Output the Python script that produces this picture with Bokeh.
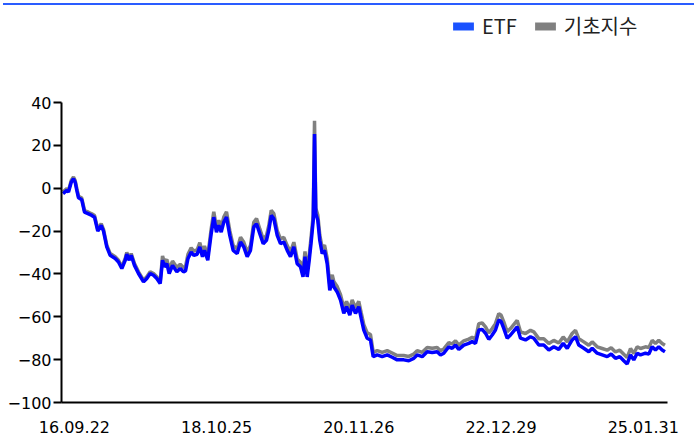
from bokeh.plotting import figure
from bokeh.models import Range1d, FixedTicker, Legend, LegendItem, Div
from bokeh.layouts import column
from bokeh.embed import file_html
from bokeh.resources import INLINE

# time as decimal years
t = [2016.557, 2016.613, 2016.638, 2016.678, 2016.711, 2016.736, 2016.760, 2016.785, 2016.833, 2016.873,
     2016.932, 2016.980, 2017.020, 2017.068, 2017.118, 2017.152, 2017.200, 2017.250, 2017.324, 2017.372,
     2017.421, 2017.471, 2017.494, 2017.530, 2017.559, 2017.607, 2017.666, 2017.740, 2017.788, 2017.838,
     2017.887, 2017.935, 2017.985, 2018.019, 2018.048, 2018.082, 2018.117, 2018.166, 2018.229, 2018.279,
     2018.327, 2018.357, 2018.393, 2018.440, 2018.479, 2018.528, 2018.567, 2018.606, 2018.636, 2018.684,
     2018.734, 2018.772, 2018.812, 2018.846, 2018.881, 2018.919, 2018.959, 2019.007, 2019.057, 2019.116,
     2019.165, 2019.213, 2019.263, 2019.311, 2019.360, 2019.400, 2019.448, 2019.498, 2019.546, 2019.580,
     2019.616, 2019.654, 2019.704, 2019.752, 2019.801, 2019.851, 2019.899, 2019.948, 2019.997, 2020.046,
     2020.083, 2020.112, 2020.144, 2020.174, 2020.200, 2020.233, 2020.252, 2020.271, 2020.300, 2020.329,
     2020.365, 2020.399, 2020.438, 2020.476, 2020.512, 2020.535, 2020.585, 2020.634, 2020.682, 2020.722,
     2020.770, 2020.805, 2020.854, 2020.902, 2020.938, 2020.976, 2021.026, 2021.074, 2021.114, 2021.173,
     2021.246, 2021.320, 2021.393, 2021.466, 2021.563, 2021.637, 2021.710, 2021.760, 2021.834, 2021.907,
     2021.981, 2022.054, 2022.103, 2022.151, 2022.225, 2022.274, 2022.323, 2022.371, 2022.445, 2022.518,
     2022.568, 2022.617, 2022.665, 2022.715, 2022.764, 2022.812, 2022.862, 2022.910, 2022.959, 2022.994,
     2023.032, 2023.082, 2023.131, 2023.190, 2023.229, 2023.278, 2023.351, 2023.425, 2023.473, 2023.547,
     2023.620, 2023.694, 2023.767, 2023.840, 2023.905, 2023.964, 2024.037, 2024.086, 2024.134, 2024.208,
     2024.281, 2024.331, 2024.404, 2024.478, 2024.551, 2024.610, 2024.673, 2024.736, 2024.795, 2024.845,
     2024.894, 2024.942, 2024.992, 2025.041, 2025.114, 2025.163, 2025.212, 2025.261, 2025.309, 2025.359,
     2025.400]

etf = [-2.5, -1.0, -1.8, 2.8, 4.4, 2.8, -1.0, -4.5, -5.4, -11.2,
       -12.0, -12.7, -13.5, -20.0, -17.3, -20.0, -27.4, -31.3, -32.8, -34.4,
       -37.5, -33.6, -30.8, -33.6, -31.3, -36.0, -39.8, -43.7, -42.1, -39.8,
       -40.6, -42.1, -44.5, -33.6, -36.7, -35.2, -39.8, -36.0, -39.0, -37.5,
       -39.0, -38.6, -32.8, -29.8, -31.3, -30.8, -27.4, -32.0, -29.0, -33.6,
       -21.2, -13.5, -20.5, -17.3, -20.5, -15.8, -13.5, -22.0, -29.0, -30.5,
       -25.1, -27.4, -32.0, -29.0, -18.1, -16.6, -21.2, -25.9, -24.3, -19.7,
       -12.7, -14.2, -22.0, -25.9, -25.1, -29.0, -32.0, -27.4, -35.2, -36.7,
       -41.4, -32.0, -41.4, -33.6, -25.9, -15.0, 25.3, -11.9, -15.0, -24.3,
       -30.5, -29.0, -35.2, -47.6, -42.9, -46.0, -48.4, -52.2, -58.4, -55.3,
       -59.2, -54.6, -58.4, -55.3, -60.7, -66.2, -70.0, -70.8, -78.6, -77.8,
       -78.6, -77.8, -78.9, -80.1, -80.1, -80.5, -79.4, -77.8, -78.6, -76.3,
       -76.7, -76.3, -77.8, -77.0, -74.0, -74.7, -73.2, -75.2, -73.2, -72.4,
       -71.6, -72.4, -66.2, -65.9, -67.7, -70.5, -68.5, -66.2, -61.5, -62.3,
       -65.4, -70.0, -68.5, -66.2, -64.7, -70.0, -70.8, -69.3, -70.0, -73.2,
       -73.2, -75.5, -74.0, -75.2, -72.4, -74.7, -70.8, -69.3, -73.2, -74.7,
       -76.3, -74.7, -77.0, -77.8, -78.6, -77.4, -79.4, -78.6, -80.5, -82.0,
       -77.8, -80.1, -77.0, -77.8, -77.0, -77.4, -74.0, -75.5, -74.0, -75.5,
       -76.3]

index_vals = [-1.7, -0.2, -1.0, 3.6, 5.2, 3.6, -0.2, -3.7, -4.6, -10.4,
              -11.2, -11.9, -12.7, -19.2, -16.5, -19.2, -26.6, -30.5, -32.0, -33.6,
              -36.7, -32.8, -30.0, -32.8, -30.5, -35.2, -39.0, -42.9, -41.3, -39.0,
              -39.8, -41.3, -43.7, -31.6, -34.7, -33.2, -37.8, -34.0, -37.0, -35.5,
              -37.0, -36.6, -30.8, -27.8, -29.3, -28.8, -25.4, -30.0, -27.0, -31.6,
              -19.0, -11.0, -18.3, -15.0, -18.2, -13.5, -11.0, -19.8, -26.8, -28.3,
              -22.9, -25.2, -29.8, -26.8, -15.9, -14.2, -19.0, -23.7, -22.1, -17.5,
              -10.3, -11.8, -19.8, -23.7, -22.9, -26.8, -29.8, -25.2, -33.0, -34.5,
              -38.9, -29.5, -38.9, -31.1, -23.4, -12.5, 31.5, -9.4, -12.5, -21.8,
              -28.0, -26.5, -32.7, -45.1, -40.4, -43.5, -45.9, -49.7, -55.9, -52.8,
              -56.7, -52.1, -55.9, -52.8, -58.2, -63.7, -67.5, -68.3, -76.6, -75.8,
              -76.6, -75.8, -76.9, -78.1, -78.1, -78.5, -77.4, -75.8, -76.6, -74.3,
              -74.7, -74.3, -75.8, -75.0, -72.0, -72.7, -71.2, -73.2, -71.2, -70.4,
              -69.6, -70.4, -63.2, -62.9, -64.7, -67.5, -65.5, -63.2, -58.5, -59.3,
              -62.4, -67.0, -65.5, -63.2, -61.7, -67.0, -67.8, -66.3, -67.0, -70.2,
              -70.2, -72.5, -71.0, -72.2, -69.4, -71.7, -67.8, -66.3, -70.2, -71.7,
              -73.3, -71.7, -74.0, -74.8, -75.6, -74.4, -76.4, -75.6, -77.5, -79.0,
              -74.8, -77.1, -74.0, -74.8, -74.0, -74.4, -71.0, -72.5, -71.0, -72.5,
              -73.3]

x_tick_pos = [2016.724, 2018.814, 2020.902, 2022.992, 2025.082]
x_tick_labels = ["16.09.22", "18.10.25", "20.11.26", "22.12.29", "25.01.31"]
y_ticks = [-100, -80, -60, -40, -20, 0, 20, 40]
series_names = ["ETF", "기초지수"]

# axis extents and the (wider) visible window that leaves room for the legend on top
x_axis_bounds = (2016.535, 2025.437)
y_axis_bounds = (-100, 40)
x_view = (2016.535, 2025.834)
y_view = (-100, 85.27)

p = figure(width=694, height=439, output_backend="svg", toolbar_location=None,
           x_range=Range1d(*x_view), y_range=Range1d(*y_view),
           min_border_left=61, min_border_right=0, min_border_top=0, min_border_bottom=42,
           margin=0)
p.xgrid.visible = False
p.ygrid.visible = False
p.outline_line_color = None
p.background_fill_color = "white"
p.border_fill_color = "white"

r_idx = p.line(t, index_vals, line_color="#808080", line_width=3.5)
r_etf = p.line(t, etf, line_color="#0000ff", line_width=3.5)

# zero-size legend proxies so the legend shows filled boxes
q1 = p.quad(left=[t[0]], right=[t[0]], top=[etf[0]], bottom=[etf[0]], fill_color="#1a52ff", line_color=None)
q2 = p.quad(left=[t[0]], right=[t[0]], top=[index_vals[0]], bottom=[index_vals[0]], fill_color="#808080", line_color=None)

for ax in (p.xaxis[0], p.yaxis[0]):
    ax.axis_line_width = 2
    ax.axis_line_color = "black"
    ax.major_tick_line_width = 2
    ax.major_tick_line_color = "black"
    ax.minor_tick_line_color = None
    ax.major_label_text_font = "DejaVu Sans"
    ax.major_label_text_font_size = "16px"
    ax.major_label_text_color = "black"

p.yaxis.ticker = FixedTicker(ticks=y_ticks)
p.yaxis.bounds = y_axis_bounds
p.yaxis.major_tick_out = 8
p.yaxis.major_tick_in = 0
p.yaxis.major_label_standoff = 2

p.xaxis.ticker = FixedTicker(ticks=x_tick_pos)
p.xaxis.bounds = x_axis_bounds
p.xaxis.major_label_overrides = {pos: lab for pos, lab in zip(x_tick_pos, x_tick_labels)}
p.xaxis.major_tick_out = 0
p.xaxis.major_tick_in = 0
p.xaxis.major_label_standoff = 18

legend = Legend(items=[LegendItem(label=series_names[0], renderers=[q1]),
                       LegendItem(label=series_names[1], renderers=[q2])],
                orientation="horizontal", location=(389, 362),
                glyph_width=26, glyph_height=10, label_standoff=6, spacing=15,
                padding=0, margin=0, border_line_color=None, background_fill_alpha=0,
                label_text_font="Noto Sans CJK KR", label_text_font_size="20px",
                label_text_color="#222222", label_height=22)
p.add_layout(legend)

top_bar = Div(text="", width=691, height=2, margin=(3, 0, 0, 3),
              styles={"background-color": "#2a5cff"})

layout = column(top_bar, p, spacing=0, margin=0)
open("out.html", "w").write(file_html(layout, INLINE))
